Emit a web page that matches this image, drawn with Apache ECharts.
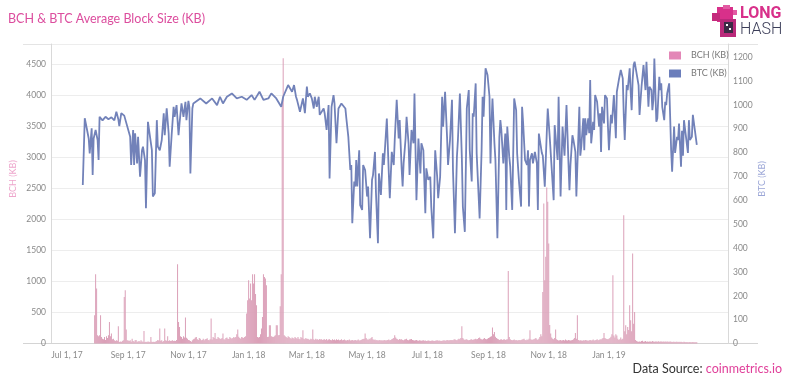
<!DOCTYPE html>
<html><head><meta charset="utf-8">
<script src="https://cdn.jsdelivr.net/npm/echarts@6/dist/echarts.min.js"></script>
<style>html,body{margin:0;padding:0;background:#fff}#c{width:804px;height:381px}</style>
</head><body><div id="c"></div>
<script>
const titleText = 'BCH & BTC Average Block Size (KB)';
const xTickDates = ['2017-07-01','2017-09-01','2017-11-01','2018-01-01','2018-03-01','2018-05-01','2018-07-01','2018-09-01','2018-11-01','2019-01-01'];
const xTickLabels = ['Jul 1, 17','Sep 1, 17','Nov 1, 17','Jan 1, 18','Mar 1, 18','May 1, 18','Jul 1, 18','Sep 1, 18','Nov 1, 18','Jan 1, 19'];
const axisStart = '2017-07-01';
const axisFrom = -16.2, axisTo = 669.6;   // days relative to axisStart
const seriesNames = ['BCH (KB)','BTC (KB)'];

// BCH daily values starting 2017-07-29
const bchStart = '2017-07-29';
const bchKB = [
457,1118,887,134,120,134,457,107,80,70,
107,60,118,90,134,349,120,161,70,80,
54,40,54,45,280,27,35,27,40,54,
753,860,226,54,50,40,54,30,80,40,
30,54,60,30,35,40,30,54,35,30,
204,27,30,27,35,30,27,107,30,27,
30,27,35,40,60,50,242,45,54,30,
40,242,54,45,118,40,54,40,45,54,
40,45,43,60,1280,349,269,120,107,80,
118,100,419,95,80,60,54,40,30,54,
70,80,100,107,70,60,90,80,54,60,
80,54,70,75,85,60,54,70,403,65,
107,90,172,80,75,107,90,80,75,90,
161,70,65,90,100,80,75,107,90,80,
90,107,95,107,150,226,110,90,80,107,
100,90,107,120,484,699,1021,726,968,699,
1118,968,1118,800,618,107,100,107,150,242,
430,1118,1075,1048,941,107,110,296,296,120,
110,107,120,134,296,296,134,140,602,1118,
3900,4600,134,120,107,90,120,107,90,80,
100,90,80,107,90,80,107,80,70,107,
90,215,80,70,90,75,80,70,60,80,
70,226,70,60,80,65,70,60,75,65,
70,60,65,70,60,75,55,65,70,60,
55,70,60,65,55,70,60,65,55,60,
70,55,60,65,55,50,60,55,65,50,
55,60,50,55,60,50,55,65,50,55,
60,70,75,80,161,90,70,60,80,70,
90,107,70,60,65,55,60,50,55,60,
50,55,50,55,60,50,55,60,65,55,
60,70,80,90,134,100,80,70,60,75,
65,70,60,55,65,70,80,60,55,65,
70,75,60,55,50,55,60,50,45,55,
50,45,50,55,45,50,40,45,50,45,
40,45,50,45,40,45,50,55,45,50,
45,40,45,50,55,45,50,60,55,50,
60,55,60,55,65,70,60,55,65,80,
70,90,280,90,70,60,65,70,60,55,
60,65,70,60,65,70,80,70,75,90,
100,80,70,65,80,90,75,70,80,90,
100,110,120,258,150,188,110,90,80,70,
60,65,70,60,65,70,60,65,70,1172,
107,70,60,55,60,65,55,60,50,55,
60,55,60,65,70,80,60,55,65,60,
80,215,70,60,65,70,80,90,70,60,
80,108,150,120,833,2258,1021,1400,2516,2285,
1613,300,161,100,80,70,90,226,70,60,
50,55,60,50,55,60,50,65,55,50,
60,55,50,55,60,70,90,172,80,457,
60,50,55,50,45,55,50,60,55,50,
45,55,60,50,55,65,50,55,60,70,
55,60,70,65,80,90,172,90,80,75,
70,80,90,110,150,1102,130,100,150,130,
80,60,70,100,65,80,2070,200,296,150,
269,220,618,376,200,1452,322,511,60,40,
35,30,35,30,40,45,30,35,40,30,
35,30,32,35,30,40,35,30,32,35,
30,38,30,35,32,30,35,28,32,30,
35,30,28,32,30,25,28,30,25,28,
30,25,28,25,30,25,22,28,25,22,
25,22,20,25,22,20,25,22,20,22,
20];

// BTC: day offsets from 2017-07-01 and values (KB)
const btcDay = [16,18,20,22,23,25,26,27,29,31,32,33,36,39,42,45,48,50,52,53,55,58,60,64,65,67,68,69,71,72,74,76,77,79,80,82,84,86,87,89,91,92,94,96,98,99,101,103,104,106,108,109,111,113,114,116,118,120,121,123,124,125,127,128,135,141,147,152,155,158,162,167,172,177,182,187,190,195,199,204,207,212,217,219,224,228,230,232,233,236,239,241,243,244,246,248,250,251,253,255,256,258,260,261,263,265,266,268,270,271,273,275,278,280,282,283,285,287,288,289,291,292,293,294,296,297,299,300,302,304,305,307,309,310,312,313,315,316,318,320,321,322,324,326,327,329,331,332,334,336,337,339,340,341,343,344,346,347,349,351,352,354,356,358,359,361,363,364,366,368,369,371,373,375,376,378,380,381,383,385,386,388,390,391,393,395,396,398,400,401,403,405,407,408,410,411,412,414,415,417,418,420,421,422,424,426,427,428,429,430,431,433,434,436,438,439,440,442,444,445,446,448,449,451,453,455,456,458,460,461,462,464,466,467,468,469,471,472,474,476,477,478,479,481,482,484,486,487,489,491,493,494,495,497,498,500,502,503,504,506,508,509,510,512,513,515,516,518,519,520,521,523,524,525,526,528,529,530,531,533,534,535,537,539,540,541,542,544,545,547,548,549,551,552,554,556,557,559,561,563,564,565,567,568,570,571,572,573,574,575,577,579,580,582,584,586,587,589,590,592,593,594,595,597,598,600,601,602,603,605,606,607,608,610,611,612,613,615,616,618,619,620,622,623,624,625,627,629,630,631,633,634,636,638];
const btcKB = [664,944,902,859,797,902,706,859,895,853,769,950,935,950,940,948,935,971,940,911,965,955,950,866,748,895,748,881,755,866,699,810,825,769,567,929,929,810,616,630,936,825,810,853,965,873,986,880,741,873,992,950,999,873,922,1006,950,1013,936,1017,989,713,985,1006,1027,1006,1027,999,1034,1006,1034,1048,1027,1034,1021,1041,1021,1055,1021,1027,1048,1027,992,1034,1083,1055,1083,1034,1021,971,1027,965,1077,1034,1048,1027,985,1034,992,1034,958,950,985,965,895,999,692,992,1041,1006,839,985,1006,999,985,943,866,727,748,504,679,658,769,658,810,580,560,748,727,616,658,441,686,706,803,630,420,713,623,797,748,810,943,713,609,803,748,853,1021,859,936,734,658,755,859,950,839,706,895,839,1048,601,859,713,839,810,546,734,686,699,574,441,810,699,609,699,1034,909,1055,866,748,853,1021,727,462,783,853,1048,776,574,468,985,1062,810,679,965,950,1090,797,616,524,810,1034,950,1153,1125,1131,1034,755,922,1027,839,769,441,866,936,895,755,880,560,909,783,741,560,1027,978,797,672,574,992,929,769,748,810,574,769,797,755,803,755,560,880,888,799,787,657,881,985,866,860,601,915,922,769,1034,616,909,915,787,999,755,643,748,873,853,803,616,866,992,787,825,944,810,944,873,944,881,1104,839,929,895,1041,1013,909,965,803,992,922,1041,1027,909,810,958,922,1041,860,1055,1104,1146,1111,958,853,1083,1062,1153,1055,978,1104,1167,1181,1188,1083,958,1076,1167,1062,1181,992,1076,1062,978,1021,1194,929,944,1118,1062,1090,992,936,1013,999,1048,1090,951,810,720,909,799,866,853,922,741,891,787,936,944,799,936,853,866,958,951,832];

const DAY = 86400000;
const t0 = Date.parse(axisStart);
const tickTs = xTickDates.map(d => Date.parse(d));
const bch0 = Date.parse(bchStart);
const bchData = bchKB.map((v, i) => [bch0 + i * DAY, v]);
const btcData = btcDay.map((d, i) => [t0 + d * DAY, btcKB[i]]);

const PINK = '#dc4d9e', BAR = '#dba0b8', BLUE = '#7282b9';
const axisFont = {color: '#8a8a8a', fontSize: 8.5, fontFamily: 'Lato, sans-serif'};
const plain = v => String(v);

const chart = echarts.init(document.getElementById('c'), null, {renderer: 'canvas'});
chart.setOption({
  animation: false,
  backgroundColor: '#fff',
  textStyle: {fontFamily: 'Lato, sans-serif'},
  grid: {left: 51, right: 76, top: 44, bottom: 37.4, containLabel: false},
  legend: {
    orient: 'vertical', left: 664, top: 46, itemWidth: 12, itemHeight: 8, itemGap: 9,
    textStyle: {color: '#777', fontSize: 9, padding: [0, 0, 0, 5]},
    data: [{name: seriesNames[0], icon: 'rect', itemStyle: {color: '#e387b7'}},
           {name: seriesNames[1], icon: 'rect', itemStyle: {color: '#6b7ebb'}}]
  },
  xAxis: {
    type: 'value', min: t0 + axisFrom * DAY, max: t0 + axisTo * DAY,
    axisLine: {show: true, lineStyle: {color: '#d4d4d4', width: 1}},
    axisTick: {show: false},
    splitLine: {show: false},
    axisLabel: Object.assign({
      customValues: tickTs, margin: 7, hideOverlap: false,
      formatter: function (v) {
        let best = 0, bd = Infinity;
        tickTs.forEach((t, i) => { const dd = Math.abs(t - v); if (dd < bd) { bd = dd; best = i; } });
        return xTickLabels[best];
      }
    }, axisFont)
  },
  yAxis: [
    {type: 'value', min: 0, max: 4830, interval: 500,
     axisLine: {show: true, lineStyle: {color: '#d9d9d9'}},
     axisTick: {show: false},
     splitLine: {show: true, lineStyle: {color: '#ededed', width: 1}},
     axisLabel: Object.assign({showMaxLabel: false, margin: 5, formatter: plain}, axisFont)},
    {type: 'value', min: 0, max: 1255, interval: 100, position: 'right',
     axisLine: {show: true, lineStyle: {color: '#d9d9d9'}},
     axisTick: {show: false},
     splitLine: {show: false},
     axisLabel: Object.assign({showMaxLabel: false, margin: 5, formatter: plain}, axisFont)}
  ],
  series: [
    {name: seriesNames[0], type: 'bar', yAxisIndex: 0, data: bchData,
     barWidth: 1, itemStyle: {color: BAR}, z: 2},
    {name: seriesNames[1], type: 'line', yAxisIndex: 1, data: btcData,
     showSymbol: false, symbol: 'none', connectNulls: true,
     lineStyle: {color: BLUE, width: 1.8}, itemStyle: {color: BLUE}, z: 3}
  ],
  graphic: [
    {type: 'text', left: 8, top: 12, style: {text: titleText, fill: PINK, font: '12.5px Lato, sans-serif'}},
    {type: 'line', shape: {x1: 23, y1: 44.5, x2: 758, y2: 44.5}, style: {stroke: '#e4e4e4', lineWidth: 1}, silent: true},
    {type: 'line', shape: {x1: 23, y1: 343.5, x2: 758, y2: 343.5}, style: {stroke: '#d4d4d4', lineWidth: 1}, silent: true},
    {type: 'text', x: 13, y: 179, rotation: Math.PI / 2,
     style: {text: 'BCH (KB)', fill: '#eea6cc', font: '9px Lato, sans-serif', align: 'center', verticalAlign: 'middle'}},
    {type: 'text', x: 762, y: 179, rotation: Math.PI / 2,
     style: {text: 'BTC (KB)', fill: '#9ca7d7', font: '9px Lato, sans-serif', align: 'center', verticalAlign: 'middle'}},
    {type: 'text', right: 22, top: 362,
     style: {text: '{a|Data Source: }{b|coinmetrics.io}', rich: {
       a: {fill: '#333', font: '12.5px Lato, sans-serif'},
       b: {fill: '#e0409a', font: '12.5px Lato, sans-serif'}}}},
    {type: 'group', x: 711, y: 5, children: [
      {type: 'rect', shape: {x: 6, y: 2, width: 16, height: 15}, style: {fill: '#d8308a'}},
      {type: 'rect', shape: {x: 1, y: 8, width: 8, height: 8}, style: {fill: '#c42a7c'}},
      {type: 'rect', shape: {x: 9, y: 14, width: 16, height: 18}, style: {fill: '#b9297a'}},
      {type: 'rect', shape: {x: 13, y: 17, width: 9, height: 11}, style: {fill: '#3c2a45'}},
      {type: 'rect', shape: {x: 15, y: 19, width: 2, height: 2}, style: {fill: '#fff'}},
      {type: 'rect', shape: {x: 18, y: 23, width: 2, height: 2}, style: {fill: '#fff'}},
      {type: 'rect', shape: {x: 12, y: 0, width: 7, height: 4}, style: {fill: '#e25aa3'}},
      {type: 'rect', shape: {x: 22, y: 5, width: 4, height: 5}, style: {fill: '#e25aa3'}}
    ]},
    {type: 'text', left: 740, top: 6, style: {text: 'LONG', fill: '#d8308a', font: 'bold 16px Roboto, sans-serif'}},
    {type: 'text', left: 740, top: 22, style: {text: 'HASH', fill: '#3b3d58', font: '300 16px Roboto, sans-serif'}}
  ]
});
</script></body></html>
